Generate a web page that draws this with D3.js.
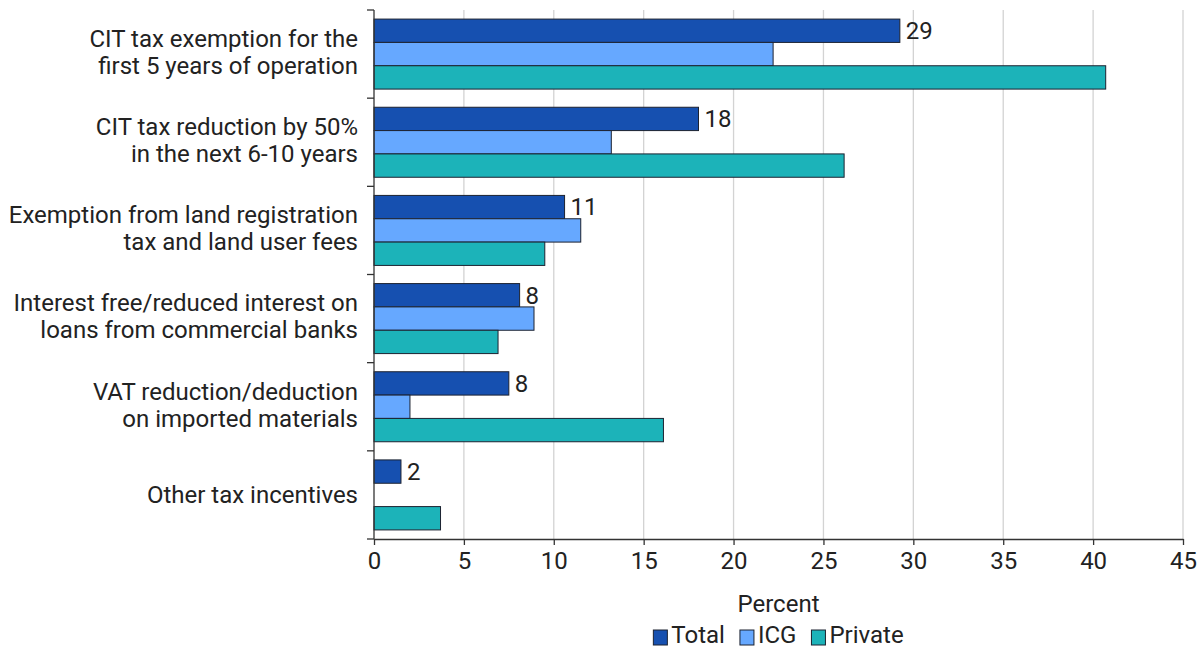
<!DOCTYPE html>
<html><head><meta charset="utf-8">
<script src="https://cdn.jsdelivr.net/npm/d3@7"></script>
<style>body{margin:0;background:#fff;font-family:Roboto,sans-serif;}</style>
</head><body><svg id="c" width="1203" height="649"></svg>
<script>
const categories = [
  ["CIT tax exemption for the","first 5 years of operation"],
  ["CIT tax reduction by 50%","in the next 6-10 years"],
  ["Exemption from land registration","tax and land user fees"],
  ["Interest free/reduced interest on","loans from commercial banks"],
  ["VAT reduction/deduction","on imported materials"],
  ["Other tax incentives"]
];
const seriesNames = ["Total","ICG","Private"];
const totalValues = [29.25, 18.05, 10.6, 8.1, 7.5, 1.5];
const icgValues = [22.2, 13.2, 11.5, 8.9, 2.0, 0];
const privateValues = [40.7, 26.15, 9.5, 6.9, 16.1, 3.7];
const totalLabels = ["29","18","11","8","8","2"];
const xTicks = [0,5,10,15,20,25,30,35,40,45];
const colors = ["#1650b0","#66a8ff","#1cb3b9"];

const FS = 24;
const svg = d3.select("#c");
const m = {left:374, right:1183, top:10, bottom:539};
const x = d3.scaleLinear().domain([0,45]).range([m.left,m.right]);
const y = d3.scaleBand().domain(d3.range(categories.length)).range([m.top,m.bottom]).paddingInner(0.206).paddingOuter(0.103);
const ySub = d3.scaleBand().domain(seriesNames).range([0,y.bandwidth()]);
const series = [totalValues, icgValues, privateValues];

// grid
svg.append("g").selectAll("line").data(xTicks.slice(1)).join("line")
  .attr("x1",d=>x(d)).attr("x2",d=>x(d)).attr("y1",m.top).attr("y2",m.bottom)
  .attr("stroke","#d3d3d3").attr("stroke-width",1.3);

// bars
series.forEach((vals,si)=>{
  svg.append("g").selectAll("rect").data(vals.map((v,i)=>({v,i})).filter(d=>d.v>0)).join("rect")
    .attr("x",x(0)).attr("y",d=>y(d.i)+ySub(seriesNames[si]))
    .attr("width",d=>x(d.v)-x(0)).attr("height",ySub.bandwidth())
    .attr("fill",colors[si]).attr("stroke","#1c2230").attr("stroke-width",1);
});
// labels
svg.append("g").selectAll("text").data(totalValues).join("text")
  .attr("x",d=>x(d)+6).attr("y",(d,i)=>y(i)+ySub("Total")+ySub.bandwidth()/2)
  .attr("dy","0.35em").attr("font-size",FS).attr("fill","#222")
  .text((d,i)=>totalLabels[i]);

// left axis
const yEdges = d3.range(categories.length+1).map(i=>m.top+i*y.step());
svg.append("line").attr("x1",m.left).attr("x2",m.left).attr("y1",m.top).attr("y2",m.bottom).attr("stroke","#333").attr("stroke-width",1.3);
svg.append("g").selectAll("line").data(yEdges).join("line")
  .attr("x1",m.left-7).attr("x2",m.left).attr("y1",d=>d).attr("y2",d=>d).attr("stroke","#333").attr("stroke-width",1.3);

// category labels
const lg = svg.append("g").attr("font-size",FS).attr("fill","#222").attr("text-anchor","end");
categories.forEach((lines,i)=>{
  const cy = y(i)+y.bandwidth()/2;
  const lh = 27;
  lines.forEach((t,j)=>{
    lg.append("text").attr("x",358).attr("y",cy+(j-(lines.length-1)/2)*lh - (lines.length>1?2:0)).attr("dy","0.35em").text(t);
  });
});

// bottom axis
const xa = svg.append("g").attr("transform",`translate(0,${m.bottom})`)
  .call(d3.axisBottom(x).tickValues(xTicks).tickSize(6).tickPadding(7).tickSizeOuter(0));
xa.select(".domain").attr("stroke","#333").attr("stroke-width",1.3);
xa.selectAll(".tick line").attr("stroke","#333").attr("stroke-width",1.3);
xa.selectAll(".tick text").attr("font-size",FS).attr("fill","#222").attr("font-family","Roboto,sans-serif");

svg.append("text").attr("x",(m.left+m.right)/2).attr("y",612).attr("text-anchor","middle")
  .attr("font-size",FS).attr("fill","#222").text("Percent");

// legend
const leg = svg.append("g");
let lx = 0;
seriesNames.forEach((n,i)=>{
  leg.append("rect").attr("x",lx).attr("y",630).attr("width",14).attr("height",15)
    .attr("fill",colors[i]).attr("stroke","#1c2230").attr("stroke-width",1);
  const t = leg.append("text").attr("x",lx+18).attr("y",643).attr("font-size",FS).attr("fill","#222").text(n);
  lx += 18 + t.node().getComputedTextLength() + 15;
});
const lw = lx - 15;
leg.attr("transform",`translate(${(m.left+m.right)/2 - lw/2},0)`);
</script></body></html>
